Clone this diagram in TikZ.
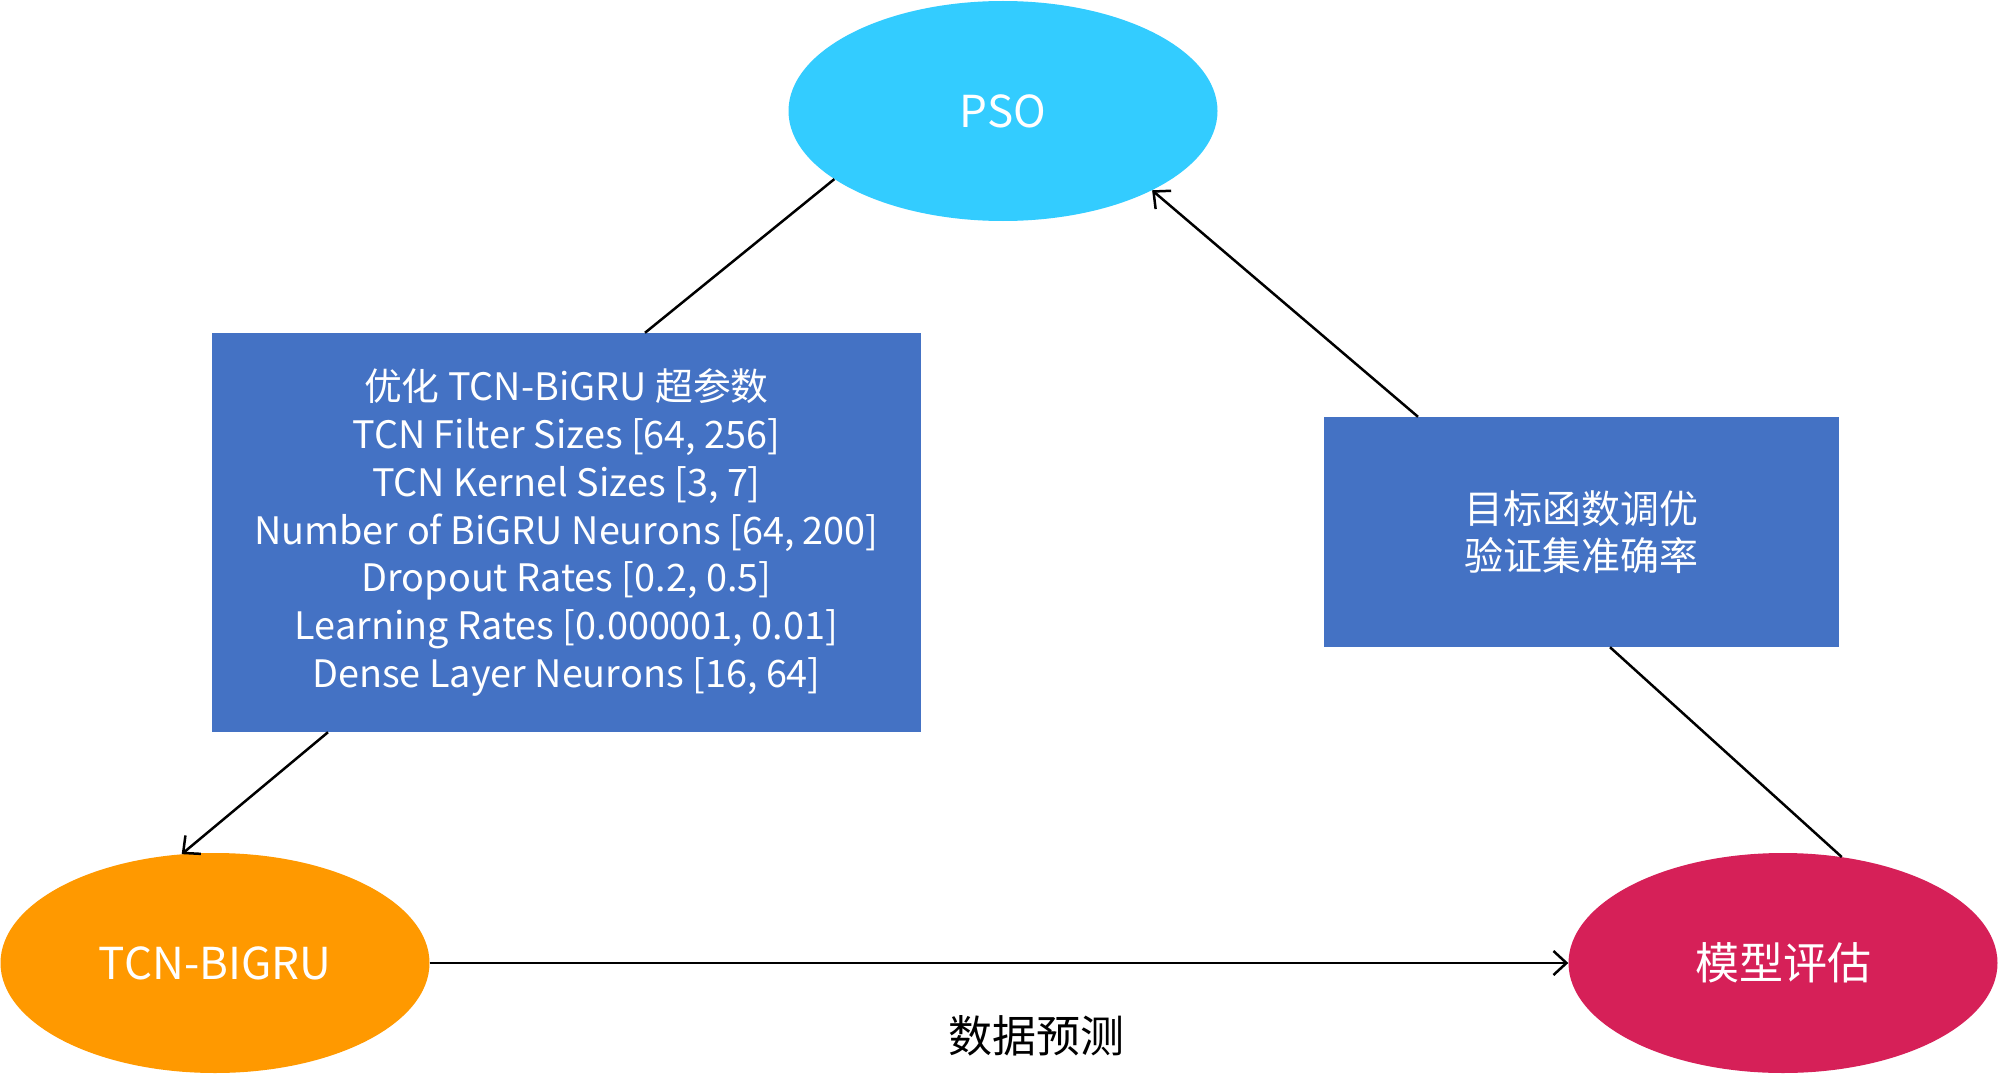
\documentclass[tikz,border=0pt]{standalone}
\usepackage{fontspec}
\setmainfont{Noto Sans CJK SC}
\usetikzlibrary{shapes.geometric,arrows.meta,calc}
\definecolor{psoblue}{HTML}{33CCFF}
\definecolor{tcnorange}{HTML}{FF9900}
\definecolor{evalred}{HTML}{D62058}
\definecolor{boxblue}{HTML}{4472C4}
\tikzset{
  oval/.style={ellipse, minimum width=429pt, minimum height=220pt, inner sep=0pt, text=white, font=\fontsize{44}{52}\selectfont},
  infobox/.style={rectangle, fill=boxblue, inner sep=0pt, text=white, align=center},
  conn/.style={line width=2.5pt, black},
  arr/.style={conn, -{Straight Barb[length=13pt,width=24pt]}}
}
\begin{document}
\begin{tikzpicture}[x=1pt,y=-1pt]
\useasboundingbox[fill=white] (0,0) rectangle (2000,1089);
\node[oval, fill=psoblue] (pso) at (1003,111) {PSO};
\node[oval, fill=tcnorange] (tcn) at (215,963) {TCN-BIGRU};
\node[oval, fill=evalred] (eval) at (1783,963) {模型评估};
\node[infobox, minimum width=709pt, minimum height=399pt, font=\fontsize{37.8}{47.8}\selectfont] (lbox) at (566.5,532.5)
  {\rule{0pt}{0pt}\raisebox{-5pt}{\parbox{700pt}{\centering 优化 TCN-BiGRU 超参数\\TCN Filter Sizes [64, 256]\\TCN Kernel Sizes [3, 7]\\Number of BiGRU Neurons [64, 200]\\Dropout Rates [0.2, 0.5]\\Learning Rates [0.000001, 0.01]\\Dense Layer Neurons [16, 64]}}};
\node[infobox, minimum width=515pt, minimum height=230pt, font=\fontsize{39}{47}\selectfont] (rbox) at (1581.5,532)
  {目标函数调优\\验证集准确率};
\node[font=\fontsize{44}{52}\selectfont, text=black] (pred) at (1036,1036) {数据预测};
\draw[conn] (pso.202) -- ($(lbox.north)+(78.5,0)$);
\draw[arr] ($(lbox.south)+(-238.5,0)$) -- (tcn.107);
\draw[arr] (tcn.east) -- (eval.west);
\draw[conn] (eval.61.5) -- ($(rbox.south)+(28.5,0)$);
\draw[arr] ($(rbox.north)+(-163.5,0)$) -- (pso.332.4);
\end{tikzpicture}
\end{document}
